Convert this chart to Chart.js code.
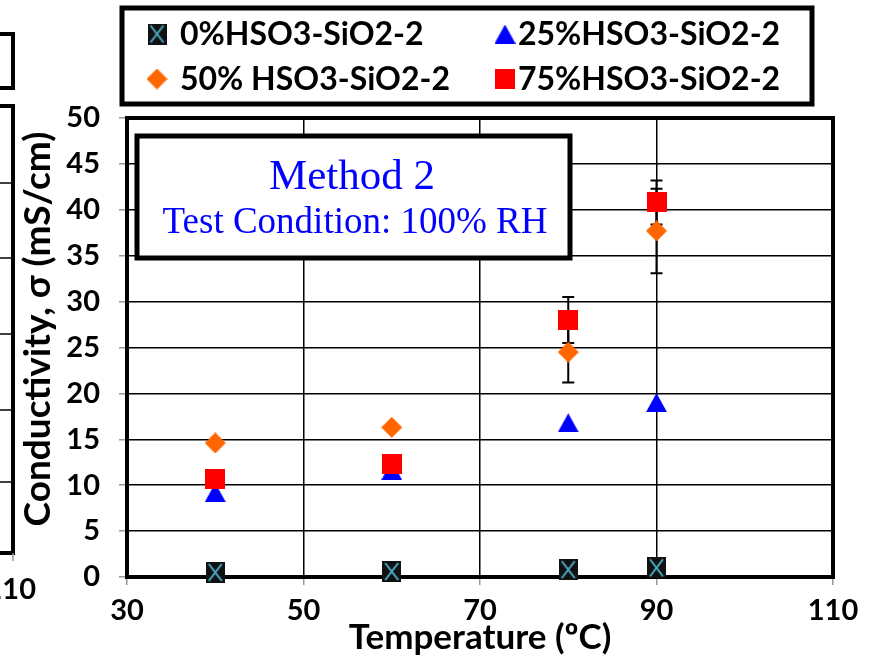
<!DOCTYPE html>
<html>
<head>
<meta charset="utf-8">
<script src="https://cdn.jsdelivr.net/npm/chart.js@4"></script>
<style>
  html, body { margin: 0; padding: 0; background: #fff; }
  #wrap { width: 869px; height: 659px; }
</style>
</head>
<body>
<div id="wrap"><canvas id="chart" width="869" height="659"></canvas></div>
<script>
// Temperature (°C) and conductivity (mS/cm)
const temps = [40, 60, 80, 90];
const seriesNames = ['0%HSO3-SiO2-2', '25%HSO3-SiO2-2', '50% HSO3-SiO2-2', '75%HSO3-SiO2-2'];
const sio2_0 = [0.5, 0.6, 0.8, 1.0];
const sio2_25 = [9.2, 11.6, 16.8, 19.0];
const sio2_50 = [14.6, 16.3, 24.5, 37.7];
const sio2_75 = [10.7, 12.3, 28.0, 40.8];
const err_50 = [0, 0, 3.3, 4.6];
const err_75 = [0, 0, 2.5, 2.4];
const xTicks = [30, 50, 70, 90, 110];
const yTicks = [0, 5, 10, 15, 20, 25, 30, 35, 40, 45, 50];

const TICK_FONT = { family: 'Lato', weight: 'bold', size: 29 };

// marker images (used for the points and for the legend)
function makeMarker(kind) {
  const c = document.createElement('canvas');
  const g = c.getContext('2d');
  if (kind === 'xsq') {
    c.width = 19; c.height = 21;
    g.fillStyle = '#111';
    g.fillRect(0, 0, 19, 21);
    g.strokeStyle = '#4bacc6';
    g.lineWidth = 2;
    g.beginPath();
    g.moveTo(3, 2); g.lineTo(16, 19);
    g.moveTo(16, 2); g.lineTo(3, 19);
    g.stroke();
  } else if (kind === 'tri') {
    c.width = 21; c.height = 19;
    g.fillStyle = '#0000ff';
    g.beginPath();
    g.moveTo(10.5, 0); g.lineTo(21, 19); g.lineTo(0, 19);
    g.closePath(); g.fill();
  } else if (kind === 'dia') {
    c.width = 21; c.height = 21;
    g.fillStyle = '#ff6600';
    g.beginPath();
    g.moveTo(10.5, 0); g.lineTo(21, 10.5); g.lineTo(10.5, 21); g.lineTo(0, 10.5);
    g.closePath(); g.fill();
  } else {
    c.width = 20; c.height = 20;
    g.fillStyle = '#ff0000';
    g.fillRect(0, 0, 20, 20);
  }
  return c;
}
const markers = [makeMarker('xsq'), makeMarker('tri'), makeMarker('dia'), makeMarker('sq')];

function points(values) {
  return temps.map((t, i) => ({ x: t, y: values[i] }));
}

// error bars, drawn behind the markers
const errorBars = {
  id: 'errorBars',
  beforeDatasetsDraw(chart) {
    const { ctx, scales: { x, y } } = chart;
    ctx.save();
    ctx.strokeStyle = '#000';
    ctx.lineWidth = 2;
    chart.data.datasets.forEach((ds) => {
      if (!ds.errors) return;
      ds.data.forEach((p, i) => {
        const e = ds.errors[i];
        if (!e) return;
        const px = x.getPixelForValue(p.x);
        const top = y.getPixelForValue(p.y + e);
        const bot = y.getPixelForValue(p.y - e);
        ctx.beginPath();
        ctx.moveTo(px, top); ctx.lineTo(px, bot);
        ctx.moveTo(px - 6, top); ctx.lineTo(px + 6, top);
        ctx.moveTo(px - 6, bot); ctx.lineTo(px + 6, bot);
        ctx.stroke();
      });
    });
    ctx.restore();
  }
};

// thick plot frame plus the "Method 2" note box
const frameAndNote = {
  id: 'frameAndNote',
  beforeDatasetsDraw(chart) {
    const { ctx, chartArea: a } = chart;
    ctx.save();
    ctx.strokeStyle = '#000';
    ctx.lineWidth = 4;
    ctx.strokeRect(a.left, a.top, a.right - a.left, a.bottom - a.top);

    ctx.fillStyle = '#fff';
    ctx.fillRect(137, 136, 433, 122);
    ctx.lineWidth = 5;
    ctx.strokeRect(137, 136, 433, 122);
    ctx.fillStyle = '#0000ff';
    ctx.textAlign = 'center';
    ctx.textBaseline = 'alphabetic';
    ctx.font = '43px "Liberation Serif"';
    ctx.fillText('Method 2', 352, 189);
    ctx.font = '37px "Liberation Serif"';
    ctx.fillText('Test Condition: 100% RH', 355, 233);
    ctx.restore();
  }
};

// legend box, y title and the edge of the neighbouring panel
const decorations = {
  id: 'decorations',
  afterDraw(chart) {
    const { ctx } = chart;
    ctx.save();
    ctx.strokeStyle = '#000';
    ctx.lineWidth = 5;
    ctx.strokeRect(122, 8, 690, 96);

    const cols = [157, 505];
    const textX = [180, 518];
    const rows = [34, 79];
    ctx.fillStyle = '#000';
    ctx.font = 'bold 32px Lato';
    ctx.textAlign = 'left';
    ctx.textBaseline = 'middle';
    seriesNames.forEach((name, i) => {
      const col = i % 2, row = Math.floor(i / 2);
      const m = markers[i];
      ctx.drawImage(m, cols[col] - m.width / 2, rows[row] - m.height / 2);
      ctx.fillText(name, textX[col], rows[row] + 1);
    });

    // y axis title
    ctx.save();
    ctx.translate(38, 329);
    ctx.rotate(-Math.PI / 2);
    ctx.textAlign = 'center';
    ctx.font = 'bold 37px Lato';
    ctx.fillText('Conductivity, \u03c3 (mS/cm)', 0, 0);
    ctx.restore();

    // cut-off edge of the panel to the left
    ctx.lineWidth = 4;
    ctx.strokeRect(-20, 34, 33, 54);
    ctx.strokeRect(-20, 106, 33, 447);
    ctx.lineWidth = 1.5;
    [183, 258, 334, 410, 482].forEach((gy) => {
      ctx.beginPath(); ctx.moveTo(0, gy); ctx.lineTo(13, gy); ctx.stroke();
    });
    ctx.strokeStyle = '#999';
    ctx.beginPath(); ctx.moveTo(13, 553); ctx.lineTo(13, 561); ctx.stroke();
    ctx.font = 'bold 29px Lato';
    ctx.textAlign = 'right';
    ctx.fillText('110', 36, 590);
    ctx.restore();
  }
};

new Chart(document.getElementById('chart'), {
  type: 'scatter',
  data: {
    datasets: [
      { label: seriesNames[0], data: points(sio2_0), pointStyle: markers[0], order: 4 },
      { label: seriesNames[1], data: points(sio2_25), pointStyle: markers[1], order: 3 },
      { label: seriesNames[2], data: points(sio2_50), pointStyle: markers[2], errors: err_50, order: 2 },
      { label: seriesNames[3], data: points(sio2_75), pointStyle: markers[3], errors: err_75, order: 1 }
    ]
  },
  options: {
    responsive: false,
    animation: false,
    clip: false,
    layout: { padding: { left: 0, top: 118, right: 36, bottom: 0 } },
    plugins: {
      legend: { display: false },
      tooltip: { enabled: false }
    },
    scales: {
      x: {
        type: 'linear',
        min: 30,
        max: 110,
        afterBuildTicks: (s) => { s.ticks = xTicks.map((v) => ({ value: v })); },
        afterFit: (s) => { s.height = 82; },
        grid: { color: '#000', lineWidth: 1.5, tickColor: '#999', tickLength: 8, tickWidth: 1.5 },
        border: { display: false },
        ticks: { color: '#000', font: TICK_FONT, padding: 8, maxRotation: 0 },
        title: {
          display: true,
          text: 'Temperature (\u00baC)',
          color: '#000',
          font: { family: 'Lato', weight: 'bold', size: 35 },
          padding: { top: 0, bottom: 0 }
        }
      },
      y: {
        min: 0,
        max: 50,
        afterBuildTicks: (s) => { s.ticks = yTicks.map((v) => ({ value: v })); },
        afterFit: (s) => { s.width = 127; },
        grid: { color: '#000', lineWidth: 1.5, tickColor: '#999', tickLength: 8, tickWidth: 1.5 },
        border: { display: false },
        ticks: { color: '#000', font: TICK_FONT, padding: 19 }
      }
    }
  },
  plugins: [frameAndNote, errorBars, decorations]
});
</script>
</body>
</html>
